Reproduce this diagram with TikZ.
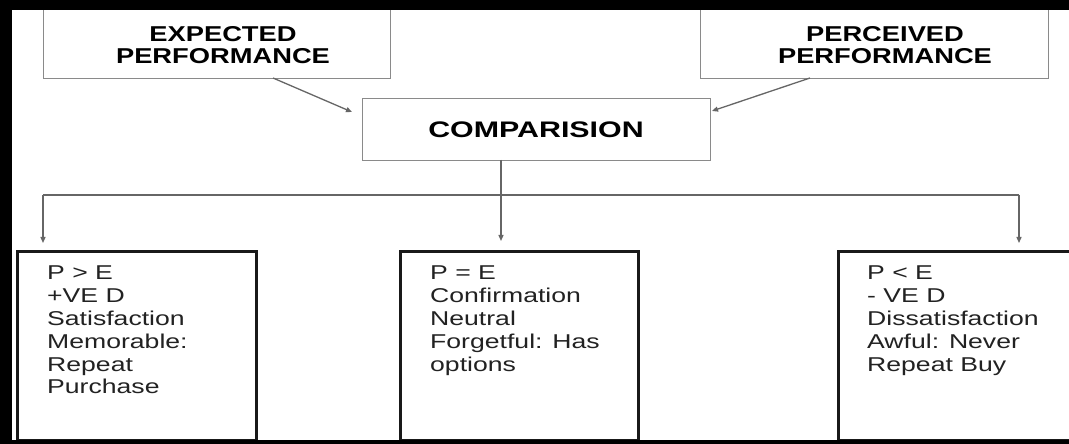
\documentclass[tikz,border=0pt]{standalone}
\usepackage{fontspec}
\setmainfont{Liberation Sans}
\usetikzlibrary{arrows.meta}
\definecolor{boxgray}{HTML}{8A8A8A}
\definecolor{linegray}{HTML}{666666}
\definecolor{txt}{HTML}{222222}
\tikzset{
  topbox/.style={draw=boxgray, line width=1.2bp, inner sep=0pt, anchor=north west},
  outbox/.style={draw=black!90, line width=2.6bp, inner sep=0pt, anchor=north west},
  conn/.style={draw=linegray, line width=1.3bp},
  arr/.style={conn, -{Triangle[length=6bp,width=5bp]}},
  titletext/.style={inner sep=0pt, anchor=base, text=black,
    font=\fontsize{21.5bp}{22bp}\selectfont\bfseries},
  bodytext/.style={inner sep=0pt, anchor=base west, text=txt,
    font=\fontsize{20bp}{22.8bp}\selectfont},
  frame/.style={fill=black, draw=none}
}
\newcommand{\titlelines}[2][1.27]{\scalebox{#1}[1]{\begin{tabular}[t]{@{}c@{}}#2\end{tabular}}}
\newcommand{\bodylines}[1]{\scalebox{1.33}[1]{\begin{tabular}[t]{@{}l@{}}#1\end{tabular}}}
\begin{document}
\begin{tikzpicture}[x=1bp,y=-1bp]
\useasboundingbox (0,0) rectangle (1069,444);
\fill[white] (-30,-30) rectangle (1120,480);
% top boxes
\node[topbox, minimum width=347bp, minimum height=72bp] (exp) at (43,6) {};
\node[topbox, minimum width=348bp, minimum height=72bp] (per) at (700,6) {};
\node[titletext] (expt) at (223,42) {\titlelines{EXPECTED\\PERFORMANCE}};
\node[titletext] (pert) at (885,42) {\titlelines{PERCEIVED\\PERFORMANCE}};
% comparison
\node[topbox, minimum width=348bp, minimum height=62bp] (cmp) at (362,98) {};
\node[titletext, font=\fontsize{22.5bp}{23bp}\selectfont\bfseries] (cmpt) at (536,138) {\titlelines[1.35]{COMPARISION}};
% outcome boxes
\node[outbox, minimum width=239bp, minimum height=189bp] (pg) at (16,250) {};
\node[outbox, minimum width=238bp, minimum height=189bp] (pe) at (399,250) {};
\node[outbox, minimum width=262bp, minimum height=189bp] (pl) at (837,250) {};
\node[bodytext] (pgt) at (47,280) {\bodylines{P > E\\+VE D\\Satisfaction\\Memorable:\\Repeat\\Purchase}};
\node[bodytext] (pet) at (430,280) {\bodylines{P = E\\Confirmation\\Neutral\\Forgetful: Has\\options}};
\node[bodytext] (plt) at (867,280) {\bodylines{P < E\\- VE D\\Dissatisfaction\\Awful: Never\\Repeat Buy}};
% connector coordinates
\coordinate (e1) at (273,78);
\coordinate (e2) at (352,112);
\coordinate (p1) at (810,78);
\coordinate (p2) at (712,111);
\coordinate (c0) at (501,160);
\coordinate (cl) at (43,195);
\coordinate (cr) at (1019,195);
\coordinate (tl) at (43,243);
\coordinate (tm) at (501,241);
\coordinate (tr) at (1019,243);
\draw[arr] (e1) -- (e2);
\draw[arr] (p1) -- (p2);
\draw[conn] (cl) -- (cr);
\draw[arr] (c0) -- (tm);
\draw[arr] (cl) -- (tl);
\draw[arr] (cr) -- (tr);
% frame
\fill[frame] (-30,-30) rectangle (1120,10);
\fill[frame] (-30,-30) rectangle (12,480);
\fill[frame] (-30,440) rectangle (1120,480);
\end{tikzpicture}
\end{document}
